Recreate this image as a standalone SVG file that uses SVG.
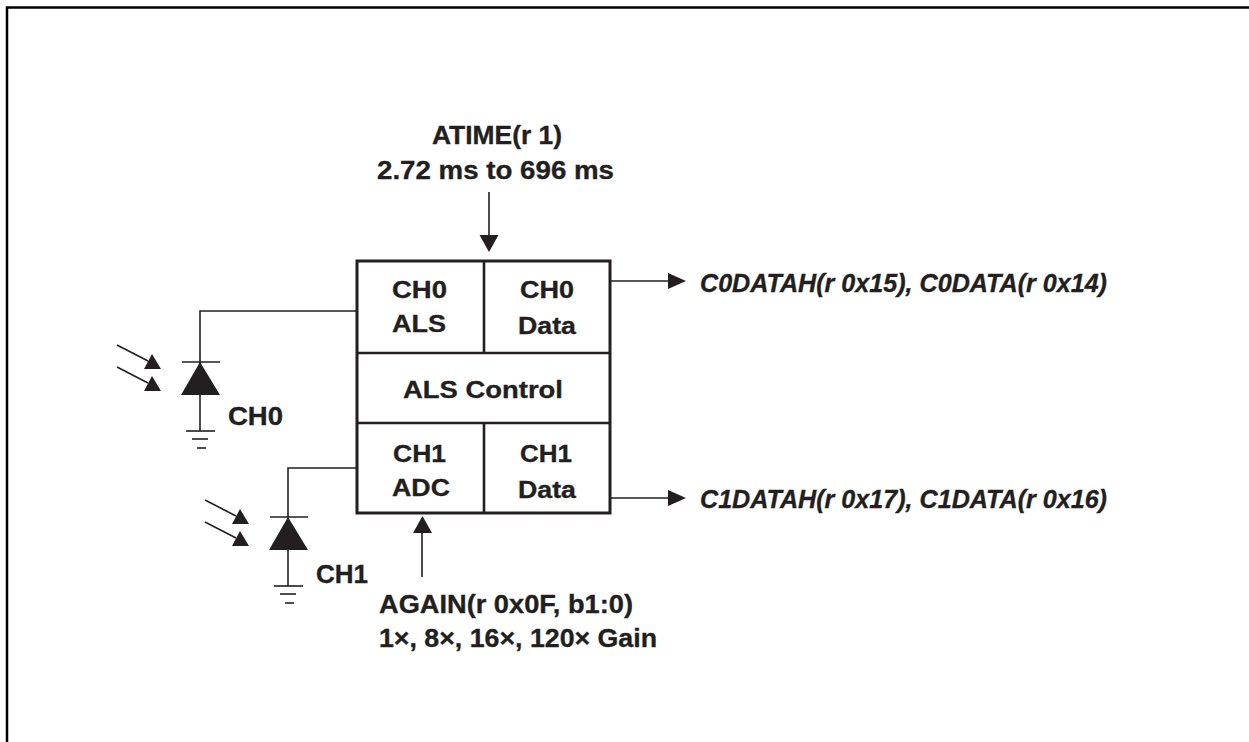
<svg xmlns="http://www.w3.org/2000/svg" width="1249" height="742" viewBox="0 0 1249 742">
<style>
.t{font-family:"Liberation Sans",Arial,sans-serif;font-weight:bold;font-size:25.5px;fill:#231f20;stroke:#231f20;stroke-width:0.35}
.tb{font-family:"Liberation Sans",Arial,sans-serif;font-weight:bold;font-size:24.5px;fill:#231f20;stroke:#231f20;stroke-width:0.35;text-anchor:middle}
.ti{font-family:"Liberation Sans",Arial,sans-serif;font-weight:bold;font-style:italic;font-size:25px;fill:#231f20;stroke:#231f20;stroke-width:0.35}
.w{stroke:#231f20;stroke-width:1.6;fill:none}
.box{stroke:#231f20;stroke-width:3;fill:#fff}
.div{stroke:#231f20;stroke-width:2.6;fill:none}
.fill{fill:#231f20;stroke:none}
</style>
<defs>
<g id="diode">
<line class="w" x1="200" y1="362" x2="200" y2="431"/>
<line class="w" x1="182" y1="362" x2="220" y2="362"/>
<polygon class="fill" points="200,362 220,395 181,395"/>
<line class="w" x1="186" y1="431" x2="215" y2="431"/>
<line class="w" x1="192" y1="439" x2="208" y2="439"/>
<line class="w" x1="197" y1="448" x2="206" y2="448"/>
<line class="w" x1="117" y1="345" x2="148" y2="361"/>
<polygon class="fill" points="152,354 161,369 144,369"/>
<line class="w" x1="117" y1="367" x2="148" y2="383"/>
<polygon class="fill" points="152,376 161,391 144,391"/>
</g>
</defs>
<rect x="0" y="0" width="1249" height="742" fill="#fff"/>
<g id="frame">
<polyline points="7,742 7,7.5 1249,7.5" fill="none" stroke="#000" stroke-width="2.5"/>
</g>
<g id="connectors">
<polyline class="w" points="357,311 200,311 200,362"/>
<polyline class="w" points="357,468 288,468 288,517"/>
<line class="w" x1="489" y1="192" x2="489" y2="237"/>
<polygon class="fill" points="479.5,235 498.5,235 489,252"/>
<line class="w" x1="610" y1="281" x2="670" y2="281"/>
<polygon class="fill" points="668,273 686,281 668,289"/>
<line class="w" x1="610" y1="498" x2="670" y2="498"/>
<polygon class="fill" points="668,490 686,498 668,506"/>
<line class="w" x1="422" y1="577" x2="422" y2="531"/>
<polygon class="fill" points="413,533 432,533 422.5,516"/>
</g>
<g id="ch0-diode">
<use href="#diode"/>
<text class="t" x="228" y="425" textLength="55" lengthAdjust="spacingAndGlyphs">CH0</text>
</g>
<g id="ch1-diode">
<use href="#diode" transform="translate(88,155)"/>
<text class="t" x="316" y="583" textLength="52" lengthAdjust="spacingAndGlyphs">CH1</text>
</g>
<g id="als-block">
<rect class="box" x="357" y="261" width="253" height="252"/>
<line class="div" x1="484" y1="261" x2="484" y2="353"/>
<line class="div" x1="357" y1="353" x2="610" y2="353"/>
<line class="div" x1="357" y1="423" x2="610" y2="423"/>
<line class="div" x1="484" y1="423" x2="484" y2="513"/>
</g>
<g id="ch0-als">
<text class="tb" x="419.5" y="298" textLength="55" lengthAdjust="spacingAndGlyphs">CH0</text>
<text class="tb" x="419" y="332" textLength="54" lengthAdjust="spacingAndGlyphs">ALS</text>
</g>
<g id="ch0-data">
<text class="tb" x="547" y="298" textLength="54" lengthAdjust="spacingAndGlyphs">CH0</text>
<text class="tb" x="547" y="334" textLength="58" lengthAdjust="spacingAndGlyphs">Data</text>
</g>
<g id="als-control">
<text class="tb" x="483" y="398" textLength="160" lengthAdjust="spacingAndGlyphs">ALS Control</text>
</g>
<g id="ch1-adc">
<text class="tb" x="419.5" y="462" textLength="53" lengthAdjust="spacingAndGlyphs">CH1</text>
<text class="tb" x="421" y="496" textLength="58" lengthAdjust="spacingAndGlyphs">ADC</text>
</g>
<g id="ch1-data">
<text class="tb" x="546" y="462" textLength="52" lengthAdjust="spacingAndGlyphs">CH1</text>
<text class="tb" x="547" y="498" textLength="58" lengthAdjust="spacingAndGlyphs">Data</text>
</g>
<g id="atime">
<text class="t" x="432" y="144" textLength="130" lengthAdjust="spacingAndGlyphs">ATIME(r 1)</text>
<text class="t" x="377" y="179" textLength="237" lengthAdjust="spacingAndGlyphs">2.72 ms to 696 ms</text>
</g>
<g id="again">
<text class="t" x="379" y="613" textLength="254" lengthAdjust="spacingAndGlyphs">AGAIN(r 0x0F, b1:0)</text>
<text class="t" x="379" y="647" textLength="278" lengthAdjust="spacingAndGlyphs">1×, 8×, 16×, 120× Gain</text>
</g>
<g id="ch0-out">
<text class="ti" x="700" y="292" textLength="407" lengthAdjust="spacingAndGlyphs">C0DATAH(r 0x15), C0DATA(r 0x14)</text>
</g>
<g id="ch1-out">
<text class="ti" x="700" y="508" textLength="407" lengthAdjust="spacingAndGlyphs">C1DATAH(r 0x17), C1DATA(r 0x16)</text>
</g>
</svg>
